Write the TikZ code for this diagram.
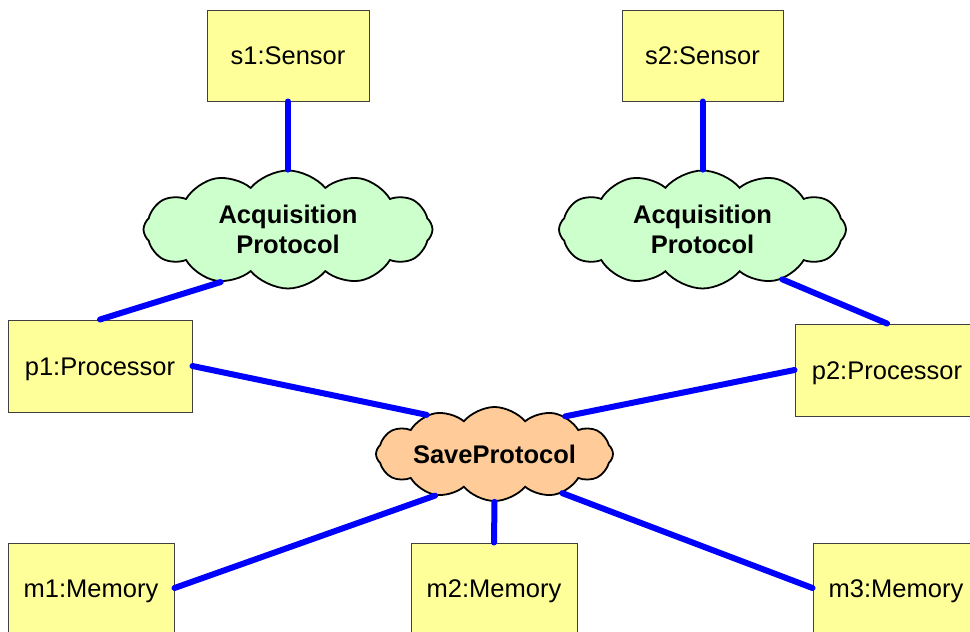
\documentclass[tikz,border=0pt]{standalone}
\usepackage{fontspec}
\setmainfont{Liberation Sans}
\usetikzlibrary{shapes.symbols}
\definecolor{boxyellow}{RGB}{255,255,153}
\definecolor{cloudgreen}{RGB}{204,255,204}
\definecolor{cloudorange}{RGB}{255,204,153}
\definecolor{boxline}{RGB}{64,64,64}
\begin{document}
\begin{tikzpicture}[x=1pt,y=-1pt,
  obj/.style={draw=boxline,line width=1pt,fill=boxyellow,inner sep=0pt,
    text height=18pt,text depth=0pt,
    font=\fontsize{25.5}{30}\selectfont},
  proto/.style={cloud,draw=black,line width=1.8pt,inner sep=0pt,align=center,
    cloud puffs=12,cloud puff arc=100,cloud ignores aspect,
    font=\fontsize{25.5}{30}\selectfont\bfseries},
  link/.style={draw={rgb,255:red,0;green,0;blue,255},line width=6pt,line cap=round}]
\useasboundingbox (0,0) rectangle (970,632);
\clip (0,0) rectangle (970,632);
% sensors
\node[obj,minimum width=162pt,minimum height=91pt] (s1) at (288,55.5) {s1:Sensor};
\node[obj,minimum width=161pt,minimum height=91pt] (s2) at (702.5,55.5) {s2:Sensor};
% processors
\node[obj,minimum width=184pt,minimum height=92pt] (p1) at (100,366) {p1:Processor};
\node[obj,minimum width=184pt,minimum height=92pt] (p2) at (887,370) {p2:Processor};
% memories
\node[obj,minimum width=166pt,minimum height=90pt] (m1) at (91,588) {m1:Memory};
\node[obj,minimum width=166pt,minimum height=90pt] (m2) at (494,588) {m2:Memory};
\node[obj,minimum width=166pt,minimum height=90pt] (m3) at (896,588) {m3:Memory};
% protocols
\node[proto,fill=cloudgreen,minimum width=289pt,minimum height=118pt] (c1) at (288,229.5) {Acquisition\\Protocol};
\node[proto,fill=cloudgreen,minimum width=287pt,minimum height=118pt] (c2) at (702.5,229.5) {Acquisition\\Protocol};
\node[proto,fill=cloudorange,minimum width=237pt,minimum height=94pt] (sp) at (494.5,454) {SaveProtocol};
% connectors
\path[link] (s1.south) -- (c1.north);
\path[link] (s2.south) -- (c2.north);
\path[link] (c1.218) -- (p1.north);
\path[link] (c2.328) -- (p2.north);
\path[link] (p1.east) -- (sp.150);
\path[link] (p2.west) -- (sp.28);
\path[link] (sp.215) -- (m1.east);
\path[link] (sp.south) -- (m2.north);
\path[link] (sp.330) -- (m3.west);
\end{tikzpicture}
\end{document}
